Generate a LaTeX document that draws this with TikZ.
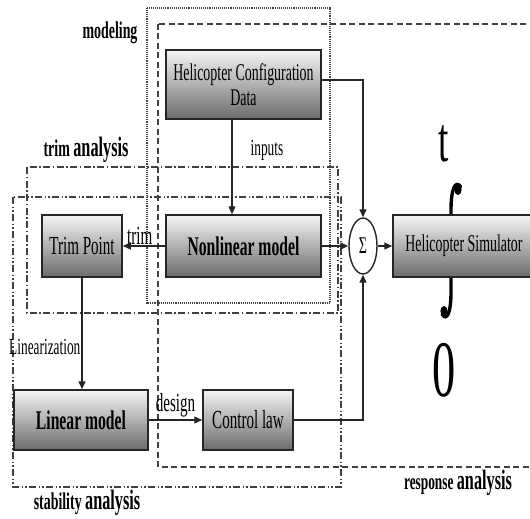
\documentclass[tikz,border=0pt]{standalone}
\usepackage{fontspec}
\setmainfont[FakeStretch=0.58]{Liberation Serif}
\usetikzlibrary{shapes.geometric,arrows.meta,calc}
\newcommand{\fsz}[1]{\fontsize{#1}{#1}\selectfont}
\begin{document}
\begin{tikzpicture}[x=1pt,y=-1pt,
  blk/.style={draw=black!85, line width=1.5pt, top color=black!4, bottom color=black!58, inner sep=0pt, align=center, text=black},
  arr/.style={line width=1.3pt, draw=black!85, -{Triangle[length=8pt,width=7pt]}},
  grp/.style={line width=1.1pt, draw=black!75},
  lab/.style={inner sep=0pt, text=black}
]
\useasboundingbox (0,0) rectangle (530,519);
\fill[white] (0,0) rectangle (530,519);

% group frames
\draw[grp, densely dotted, line width=1.3pt] (147,8) rectangle (330,303);
\draw[grp, dash pattern=on 6pt off 3.5pt] (158,24) rectangle (545,467);
\draw[grp, dash pattern=on 7pt off 2.5pt on 1.5pt off 2.5pt] (27,167) rectangle (338,313);
\draw[grp, dash pattern=on 7pt off 2.5pt on 1.5pt off 2pt on 1.5pt off 2.5pt] (13,197) rectangle (341,487);

% group labels
\node[lab] (lmod) at (110,33) {\bfseries\fsz{24}modeling};
\node[lab] (ltrim) at (86,150) {\bfseries\fsz{24}trim \fsz{28}analysis};
\node[lab] (lstab) at (87,503) {\bfseries\fsz{24}stability \fsz{28}analysis};
\node[lab] (lresp) at (458,483) {\bfseries\fsz{23}response \fsz{28}analysis};

% integral
\draw[line width=3.4pt, line cap=round, black] (461,187) .. controls (455,179) and (451,190) .. (451,210) -- (451,292) .. controls (451,312) and (447,322) .. (442,314);
\fill[black] (458,190) ellipse (3.6pt and 5pt);
\fill[black] (444,311) ellipse (3.6pt and 5pt);
\node[lab] (tt) at (444,144) {\fsz{64}t};
\node[lab] (zz) at (444,370) {\fsz{80}0};

% blocks
\node[blk, minimum width=155pt, minimum height=69pt, font=\fontsize{24}{25}\selectfont] (hcd) at (243.5,84.5) {Helicopter Configuration\\Data};
\node[blk, minimum width=155pt, minimum height=62pt] (nl) at (243.5,246) {\bfseries\fsz{27}Nonlinear model};
\node[blk, minimum width=80pt, minimum height=62pt] (tp) at (82,246) {\fsz{26}Trim Point};
\node[blk, minimum width=134pt, minimum height=60pt] (lm) at (81,420) {\bfseries\fsz{27}Linear model};
\node[blk, minimum width=90pt, minimum height=60pt] (cl) at (248,420) {\fsz{26}Control law};
\node[blk, minimum width=142pt, minimum height=62pt] (sim) at (464,246) {\fsz{24}Helicopter Simulator};
\node[ellipse, draw=black!85, line width=1.4pt, fill=white, minimum width=28pt, minimum height=56pt, inner sep=0pt] (sum) at (363,246) {\fsz{24}Σ};

% connectors
\draw[arr] ([xshift=-11.5pt]hcd.south) -- node[lab, right=18pt, pos=0.32] {\fsz{23}inputs} ([xshift=-11.5pt]nl.north);
\draw[arr] ([yshift=4.5pt]hcd.east) -| (sum.north);
\draw[arr] (nl.east) -- (sum.west);
\draw[arr] (nl.west) -- node[lab, above=1pt, pos=0.6] {\fsz{26}trim} (tp.east);
\draw[arr] (tp.south) -- node[lab, left=1pt, pos=0.62] {\fsz{23}Linearization} (tp.south |- lm.north);
\draw[arr] (lm.east) -- node[lab, above=2pt, pos=0.5] {\fsz{26}design} (cl.west);
\draw[arr] (cl.east) -| (sum.south);
\draw[arr] (sum.east) -- (sim.west);
\end{tikzpicture}
\end{document}
